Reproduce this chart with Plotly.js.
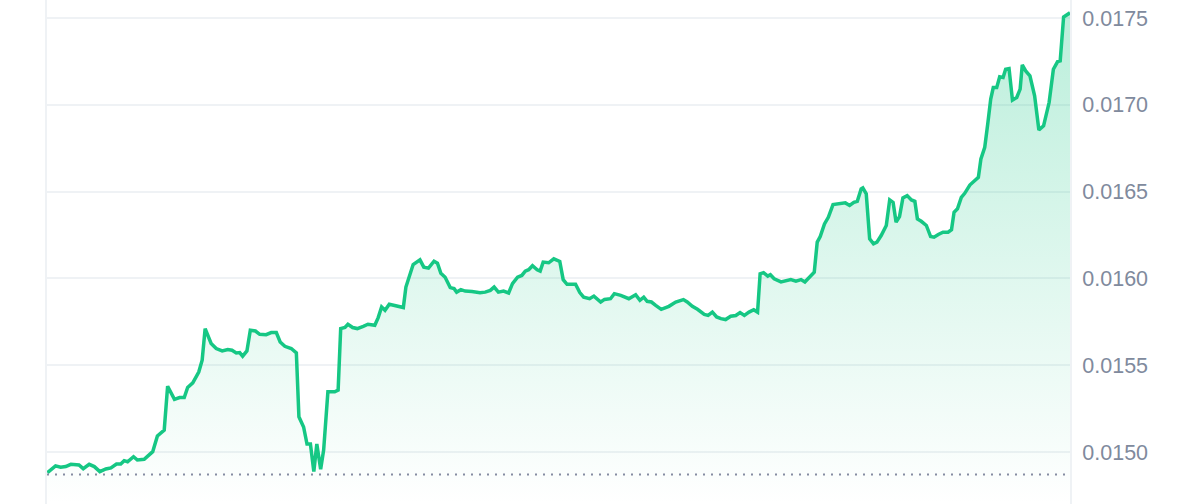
<!DOCTYPE html>
<html>
<head>
<meta charset="utf-8">
<script src="https://cdn.plot.ly/plotly-3.0.1.min.js"></script>
<style>
  html, body { margin: 0; padding: 0; background: #fff; }
  #chart { width: 1200px; height: 504px; }
</style>
</head>
<body>
<div id="chart"></div>
<script>
// hours since start of the 24h window
var hours = [
  0.01, 0.20, 0.32, 0.44, 0.56, 0.75, 0.85, 0.99, 1.11, 1.24,
  1.38, 1.50, 1.63, 1.73, 1.81, 1.89, 2.03, 2.12, 2.28, 2.40,
  2.48, 2.59, 2.75, 2.83, 2.99, 3.11, 3.22, 3.30, 3.42, 3.56,
  3.64, 3.71, 3.85, 3.97, 4.11, 4.24, 4.34, 4.44, 4.52, 4.59,
  4.69, 4.77, 4.89, 4.99, 5.14, 5.26, 5.38, 5.47, 5.58, 5.73,
  5.85, 5.91, 6.02, 6.10, 6.18, 6.26, 6.33, 6.42, 6.49, 6.59,
  6.75, 6.83, 6.89, 6.99, 7.06, 7.17, 7.28, 7.42, 7.53, 7.69,
  7.77, 7.85, 7.93, 8.03, 8.16, 8.36, 8.42, 8.52, 8.59, 8.75,
  8.84, 8.95, 9.08, 9.16, 9.24, 9.34, 9.46, 9.55, 9.61, 9.71,
  9.81, 9.97, 10.16, 10.28, 10.40, 10.49, 10.59, 10.71, 10.83, 10.92,
  11.04, 11.14, 11.22, 11.30, 11.39, 11.50, 11.57, 11.64, 11.77, 11.89,
  12.03, 12.11, 12.20, 12.40, 12.50, 12.59, 12.73, 12.83, 12.99, 13.08,
  13.22, 13.31, 13.46, 13.65, 13.81, 13.91, 14.00, 14.08, 14.18, 14.28,
  14.41, 14.59, 14.75, 14.93, 15.02, 15.14, 15.26, 15.42, 15.51, 15.61,
  15.71, 15.81, 15.92, 16.04, 16.16, 16.26, 16.36, 16.47, 16.58, 16.67,
  16.73, 16.81, 16.91, 16.97, 17.06, 17.22, 17.45, 17.57, 17.69, 17.78,
  17.91, 18.00, 18.07, 18.14, 18.24, 18.33, 18.44, 18.59, 18.73, 18.83,
  18.93, 19.01, 19.10, 19.14, 19.22, 19.30, 19.39, 19.47, 19.57, 19.69,
  19.77, 19.85, 19.92, 20.00, 20.08, 20.18, 20.28, 20.36, 20.42, 20.51,
  20.63, 20.73, 20.81, 20.91, 21.02, 21.14, 21.22, 21.28, 21.36, 21.45,
  21.53, 21.65, 21.78, 21.85, 21.91, 22.00, 22.07, 22.14, 22.20, 22.28,
  22.35, 22.43, 22.49, 22.57, 22.65, 22.75, 22.83, 22.88, 22.96, 23.06,
  23.17, 23.27, 23.38, 23.51, 23.61, 23.71, 23.77, 23.85, 24.00
];

var prices = [
  0.014881, 0.014920, 0.014912, 0.014916, 0.014929, 0.014925, 0.014904, 0.014929, 0.014916, 0.014887,
  0.014902, 0.014908, 0.014931, 0.014931, 0.014950, 0.014944, 0.014973, 0.014954, 0.014958, 0.014987,
  0.015002, 0.015092, 0.015126, 0.015379, 0.015303, 0.015314, 0.015314, 0.015372, 0.015398, 0.015461,
  0.015529, 0.015711, 0.015625, 0.015596, 0.015582, 0.015590, 0.015586, 0.015571, 0.015573, 0.015552,
  0.015582, 0.015701, 0.015697, 0.015678, 0.015676, 0.015688, 0.015688, 0.015634, 0.015609, 0.015596,
  0.015571, 0.015203, 0.015144, 0.015046, 0.015046, 0.014887, 0.015046, 0.014901, 0.015011, 0.015347,
  0.015347, 0.015356, 0.015711, 0.015717, 0.015736, 0.015717, 0.015711, 0.015724, 0.015736, 0.015730,
  0.015774, 0.015835, 0.015816, 0.015851, 0.015843, 0.015832, 0.015950, 0.016027, 0.016080, 0.016107,
  0.016065, 0.016059, 0.016099, 0.016088, 0.016030, 0.016007, 0.015947, 0.015941, 0.015921, 0.015935,
  0.015927, 0.015925, 0.015918, 0.015921, 0.015931, 0.015950, 0.015921, 0.015927, 0.015916, 0.015970,
  0.016007, 0.016017, 0.016042, 0.016050, 0.016073, 0.016050, 0.016042, 0.016094, 0.016090, 0.016113,
  0.016098, 0.015993, 0.015966, 0.015966, 0.015918, 0.015892, 0.015883, 0.015898, 0.015864, 0.015879,
  0.015883, 0.015912, 0.015902, 0.015883, 0.015906, 0.015874, 0.015892, 0.015868, 0.015864, 0.015845,
  0.015822, 0.015839, 0.015864, 0.015878, 0.015864, 0.015839, 0.015822, 0.015793, 0.015787, 0.015806,
  0.015778, 0.015768, 0.015763, 0.015782, 0.015786, 0.015803, 0.015787, 0.015806, 0.015820, 0.015806,
  0.016027, 0.016033, 0.016013, 0.016021, 0.015998, 0.015980, 0.015993, 0.015984, 0.015993, 0.015979,
  0.016011, 0.016036, 0.016209, 0.016241, 0.016314, 0.016352, 0.016425, 0.016429, 0.016435, 0.016420,
  0.016438, 0.016444, 0.016515, 0.016521, 0.016487, 0.016228, 0.016199, 0.016209, 0.016247, 0.016305,
  0.016452, 0.016438, 0.016324, 0.016356, 0.016464, 0.016477, 0.016452, 0.016444, 0.016343, 0.016329,
  0.016305, 0.016241, 0.016237, 0.016253, 0.016266, 0.016266, 0.016280, 0.016381, 0.016401, 0.016467,
  0.016490, 0.016538, 0.016563, 0.016582, 0.016688, 0.016755, 0.016889, 0.017033, 0.017099, 0.017099,
  0.017161, 0.017157, 0.017205, 0.017209, 0.017027, 0.017042, 0.017090, 0.017230, 0.017195, 0.017167,
  0.017052, 0.016855, 0.016879, 0.017013, 0.017205, 0.017249, 0.017253, 0.017506, 0.017530
];

// price 24h ago (dotted reference line)
var openPrice = 0.014870;

var tickValues = [0.0150, 0.0155, 0.0160, 0.0165, 0.0170, 0.0175];
var tickLabels = ['0.0150', '0.0155', '0.0160', '0.0165', '0.0170', '0.0175'];

var green = '#16c784';

var trace = {
    x: hours,
    y: prices,
    type: 'scatter',
    mode: 'lines',
    line: {color: green, width: 3.5, shape: 'linear'},
    fill: 'tozeroy',
    fillgradient: {
        type: 'vertical',
        start: 0.01470,
        stop: 0.01760,
        colorscale: [
            [0, 'rgba(22,199,132,0)'],
            [1, 'rgba(22,199,132,0.30)']
        ]
    },
    hoverinfo: 'skip'
};

var layout = {
    width: 1200,
    height: 504,
    margin: {l: 47, r: 130, t: 0, b: 0},
    paper_bgcolor: '#ffffff',
    plot_bgcolor: '#ffffff',
    showlegend: false,
    xaxis: {
        range: [0, 24],
        showgrid: false,
        zeroline: false,
        showticklabels: false,
        ticks: ''
    },
    yaxis: {
        range: [0.0147005, 0.0176037],
        side: 'right',
        tickvals: tickValues,
        ticktext: tickLabels,
        ticks: '',
        ticklabelstandoff: 6,
        showgrid: true,
        gridcolor: '#eff2f5',
        gridwidth: 2,
        zeroline: false,
        showline: true,
        mirror: true,
        linecolor: '#eff2f5',
        linewidth: 2,
        tickfont: {family: '"Liberation Sans", Arial, sans-serif', size: 21.5, color: '#808a9d'}
    },
    shapes: [{
        type: 'line',
        xref: 'x', yref: 'y',
        x0: 0, x1: 23.9,
        y0: openPrice, y1: openPrice,
        line: {color: '#858ca2', width: 2, dash: '2px,6px'}
    }]
};

Plotly.newPlot('chart', [trace], layout, {staticPlot: true, displayModeBar: false});
</script>
</body>
</html>
